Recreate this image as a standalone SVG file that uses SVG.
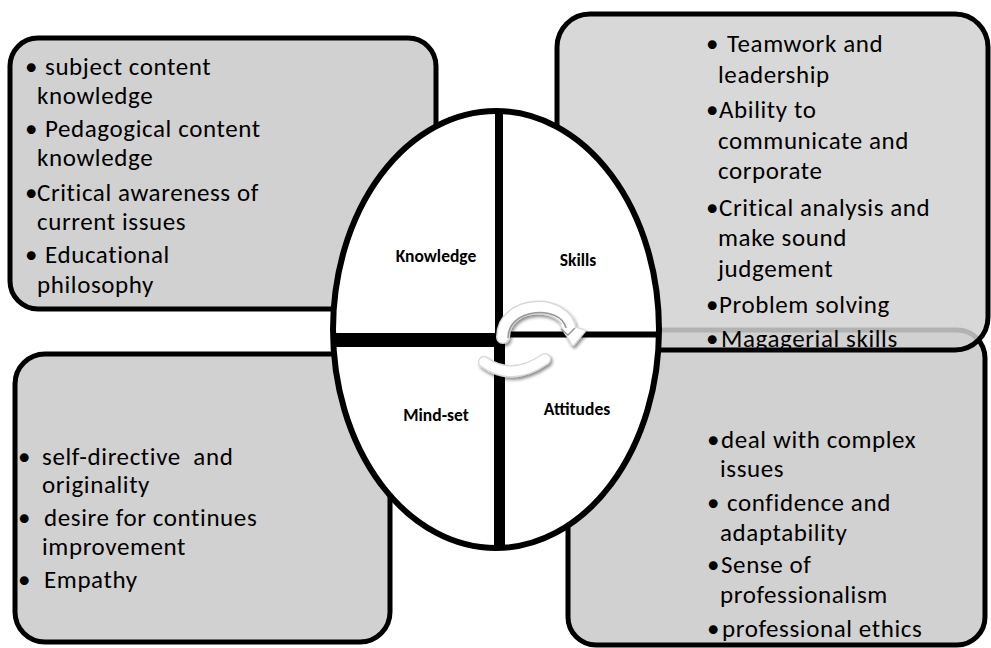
<svg xmlns="http://www.w3.org/2000/svg" width="991" height="648" viewBox="0 0 991 648">
<style>
.box{fill:#d1d1d1;stroke:#000;stroke-width:5}
.t{font-family:Carlito,Lato,"Open Sans",sans-serif;font-size:25px;letter-spacing:0.6px;fill:#000}
.b{font-family:Carlito,Lato,"Open Sans",sans-serif;font-size:25px;fill:#000}
.lbl{font-family:Carlito,Lato,"Open Sans",sans-serif;font-size:17.5px;font-weight:bold;fill:#000;text-anchor:middle}
.div{stroke:#000;fill:none}
</style>
<defs>
<filter id="sh" x="-30%" y="-40%" width="160%" height="200%">
<feDropShadow dx="1.5" dy="2.5" stdDeviation="1.8" flood-color="#000" flood-opacity="0.45"/>
</filter>
</defs>
<rect width="991" height="648" fill="#fff"/>

<g id="box-attitudes">
<rect class="box" x="568" y="330" width="417" height="315" rx="28"/>
<text class="b" x="707" y="448">•</text><text class="t" x="721" y="448">deal with complex</text>
<text class="t" x="720" y="477">issues</text>
<text class="b" x="707" y="511">•</text><text class="t" x="727" y="511">confidence and</text>
<text class="t" x="720" y="541">adaptability</text>
<text class="b" x="707" y="573">•</text><text class="t" x="721" y="573">Sense of</text>
<text class="t" x="720" y="603">professionalism</text>
<text class="b" x="707" y="637">•</text><text class="t" x="722" y="637">professional ethics</text>
</g>

<g id="box-skills">
<rect x="557" y="14" width="431" height="336" rx="33" fill="#d1d1d1" fill-opacity="0.85" stroke="#000" stroke-width="5"/>
<text class="b" x="706" y="52">•</text><text class="t" x="727" y="52">Teamwork and</text>
<text class="t" x="718" y="83">leadership</text>
<text class="b" x="706" y="118">•</text><text class="t" x="719" y="118">Ability to</text>
<text class="t" x="718" y="149">communicate and</text>
<text class="t" x="718" y="179">corporate</text>
<text class="b" x="706" y="216">•</text><text class="t" x="719" y="216">Critical analysis and</text>
<text class="t" x="718" y="246">make sound</text>
<text class="t" x="718" y="277">judgement</text>
<text class="b" x="706" y="313">•</text><text class="t" x="719" y="313">Problem solving</text>
<text class="b" x="706" y="347">•</text><text class="t" x="721" y="347">Magagerial skills</text>
</g>

<g id="box-knowledge">
<rect class="box" x="10" y="38" width="426" height="271" rx="28"/>
<text class="b" x="25" y="75">•</text><text class="t" x="45" y="75">subject content</text>
<text class="t" x="37" y="104">knowledge</text>
<text class="b" x="25" y="137">•</text><text class="t" x="45" y="137">Pedagogical content</text>
<text class="t" x="37" y="166">knowledge</text>
<text class="b" x="25" y="201">•</text><text class="t" x="37" y="201">Critical awareness of</text>
<text class="t" x="37" y="230">current issues</text>
<text class="b" x="25" y="263">•</text><text class="t" x="45" y="263">Educational</text>
<text class="t" x="37" y="293">philosophy</text>
</g>

<g id="box-mindset">
<rect class="box" x="15" y="354" width="375" height="288" rx="30"/>
<text class="b" x="18" y="465">•</text><text class="t" x="42" y="465" xml:space="preserve">self-directive  and</text>
<text class="t" x="42" y="493">originality</text>
<text class="b" x="18" y="526">•</text><text class="t" x="44" y="526">desire for continues</text>
<text class="t" x="42" y="555">improvement</text>
<text class="b" x="18" y="588">•</text><text class="t" x="44" y="588">Empathy</text>
</g>

<g id="core">
<ellipse cx="496" cy="329.5" rx="163" ry="218.5" fill="#fff" stroke="#000" stroke-width="6"/>
<line class="div" x1="499" y1="110" x2="499" y2="338" stroke-width="8"/>
<line class="div" x1="499.5" y1="334" x2="499.5" y2="549" stroke-width="11"/>
<line class="div" x1="331" y1="340" x2="500" y2="340" stroke-width="14"/>
<line class="div" x1="499" y1="334.5" x2="660" y2="334.5" stroke-width="6"/>
<text class="lbl" x="436" y="262">Knowledge</text>
<text class="lbl" x="578" y="266">Skills</text>
<text class="lbl" x="436" y="421">Mind-set</text>
<text class="lbl" x="577" y="415">Attitudes</text>
</g>

<g id="connectors">
<g filter="url(#sh)">
<path d="M503 337 C503 300 566 298 570 330" fill="none" stroke="#d8d8d8" stroke-width="14" stroke-linecap="round"/>
<path d="M562 325 L584 331 L573 344 Z" fill="#d8d8d8" stroke="#d8d8d8" stroke-width="4" stroke-linejoin="round"/>
<path d="M484 362 Q512 382 545 359" fill="none" stroke="#d8d8d8" stroke-width="12" stroke-linecap="round"/>
</g>
<path d="M503 337 C503 300 566 298 570 330" fill="none" stroke="#fff" stroke-width="11" stroke-linecap="round"/>
<path d="M562 325 L584 331 L573 344 Z" fill="#fff" stroke="#fff" stroke-width="1.5" stroke-linejoin="round"/>
<path d="M484 362 Q512 382 545 359" fill="none" stroke="#fff" stroke-width="9.5" stroke-linecap="round"/>
<path d="M508 338 C508 307 561 305 566 328" fill="none" stroke="#9a9a9a" stroke-width="1.6"/>
<path d="M561 329 L568 335 L575 328" fill="none" stroke="#9a9a9a" stroke-width="1.6"/>
</g>
</svg>
